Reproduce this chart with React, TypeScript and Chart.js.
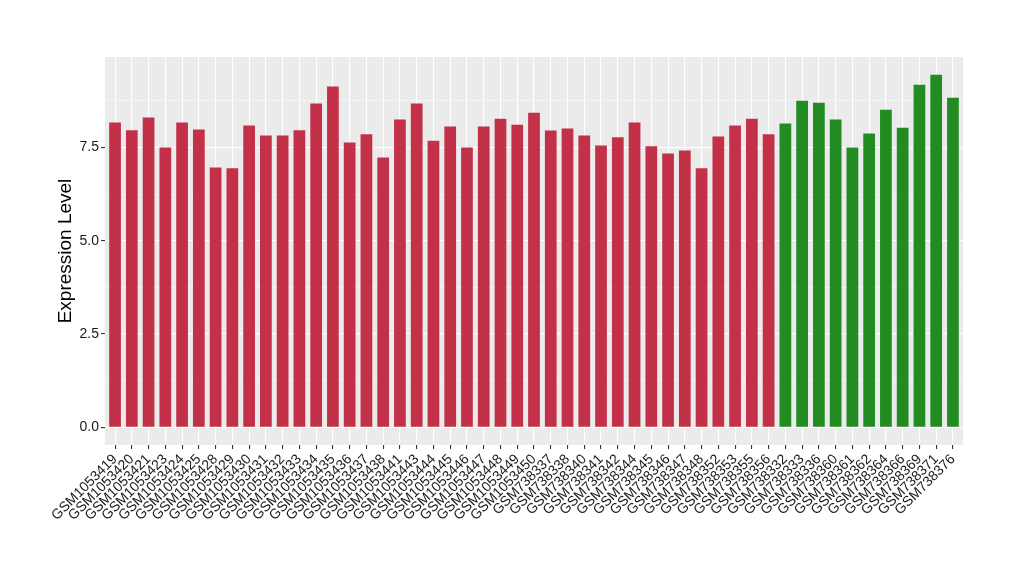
import React, { useEffect, useRef } from "react";
import { Chart, registerables } from "chart.js";

Chart.register(...registerables);

const sampleLabels: string[] = [
  "GSM1053419", "GSM1053420", "GSM1053421", "GSM1053423", "GSM1053424", "GSM1053425",
  "GSM1053428", "GSM1053429", "GSM1053430", "GSM1053431", "GSM1053432", "GSM1053433",
  "GSM1053434", "GSM1053435", "GSM1053436", "GSM1053437", "GSM1053438", "GSM1053441",
  "GSM1053443", "GSM1053444", "GSM1053445", "GSM1053446", "GSM1053447", "GSM1053448",
  "GSM1053449", "GSM1053450", "GSM738337", "GSM738338", "GSM738340", "GSM738341",
  "GSM738342", "GSM738344", "GSM738345", "GSM738346", "GSM738347", "GSM738348",
  "GSM738352", "GSM738353", "GSM738355", "GSM738356",
  "GSM738332", "GSM738333", "GSM738336", "GSM738360", "GSM738361", "GSM738362",
  "GSM738364", "GSM738366", "GSM738369", "GSM738371", "GSM738376",
];

const expressionValues: number[] = [
  8.17, 7.96, 8.30, 7.50, 8.17, 7.98, 6.96, 6.94, 8.09, 7.82, 7.82, 7.96,
  8.68, 9.13, 7.63, 7.85, 7.23, 8.25, 8.68, 7.68, 8.06, 7.50, 8.06, 8.27,
  8.11, 8.43, 7.95, 8.01, 7.82, 7.55, 7.77, 8.17, 7.53, 7.34, 7.42, 6.94,
  7.79, 8.09, 8.27, 7.85,
  8.14, 8.75, 8.70, 8.25, 7.50, 7.87, 8.51, 8.03, 9.18, 9.45, 8.83,
];

// 0 = first group (red), 1 = second group (green)
const sampleGroup: number[] = [
  0, 0, 0, 0, 0, 0, 0, 0, 0, 0, 0, 0, 0, 0, 0, 0, 0, 0, 0, 0,
  0, 0, 0, 0, 0, 0, 0, 0, 0, 0, 0, 0, 0, 0, 0, 0, 0, 0, 0, 0,
  1, 1, 1, 1, 1, 1, 1, 1, 1, 1, 1,
];

const groupColors: string[] = ["#C33149", "#228B22"];
const yTickStep = 1.25;

const FONT = "'Liberation Sans', Arial, Helvetica, sans-serif";

const panelBg = {
  id: "panelBg",
  beforeDraw(chart: any) {
    const { ctx, chartArea } = chart;
    ctx.save();
    ctx.fillStyle = "#EBEBEB";
    ctx.fillRect(chartArea.left, chartArea.top, chartArea.width, chartArea.height);
    ctx.restore();
  },
};

const isMajor = (v: number) => Math.abs(v / 2.5 - Math.round(v / 2.5)) < 1e-6;

export default function App() {
  const ref = useRef<HTMLCanvasElement>(null);

  useEffect(() => {
    if (!ref.current) return;
    const n = sampleLabels.length;
    const yMax = Math.max(...expressionValues);
    const pad = yMax * 0.05;
    const chart = new Chart(ref.current, {
      type: "bar",
      data: {
        datasets: [
          {
            data: expressionValues.map((v, i) => ({ x: i, y: v })),
            backgroundColor: sampleGroup.map((g) => groupColors[g]),
            barPercentage: 0.7,
            categoryPercentage: 1,
          },
        ],
      },
      options: {
        animation: false,
        responsive: false,
        layout: { padding: { top: 57, right: 57, left: 0, bottom: 0 } },
        plugins: { legend: { display: false }, tooltip: { enabled: false } },
        scales: {
          x: {
            type: "linear",
            offset: false,
            min: -0.6,
            max: n - 1 + 0.6,
            afterFit(scale: any) {
              scale.height = 135;
            },
            border: { display: false },
            grid: {
              offset: false,
              color: "#FFFFFF",
              lineWidth: 1.1,
              drawTicks: true,
              tickLength: 4,
              tickColor: "#333333",
            },
            ticks: {
              stepSize: 1,
              includeBounds: false,
              autoSkip: false,
              minRotation: 45,
              maxRotation: 45,
              padding: 2,
              color: "#1A1A1A",
              font: { family: FONT, size: 14 },
              callback: (v: any) => sampleLabels[Math.round(Number(v))] ?? "",
            },
          },
          y: {
            type: "linear",
            min: -pad,
            max: yMax + pad,
            afterFit(scale: any) {
              scale.width = 105;
            },
            border: { display: false },
            grid: {
              color: "#FFFFFF",
              lineWidth: (c: any) => (isMajor(c.tick.value) ? 1.1 : 0.5),
              tickLength: 4,
              tickColor: (c: any) => (isMajor(c.tick.value) ? "#333333" : "rgba(0,0,0,0)"),
            },
            ticks: {
              stepSize: yTickStep,
              includeBounds: false,
              padding: 2,
              color: "#1A1A1A",
              font: { family: FONT, size: 14 },
              callback: (v: any) => (isMajor(Number(v)) ? Number(v).toFixed(1) : ""),
            },
            title: {
              display: true,
              text: "Expression Level",
              color: "#000000",
              font: { family: FONT, size: 19 },
              padding: { top: 54, bottom: 0 },
            },
          },
        },
      },
      plugins: [panelBg],
    });
    return () => chart.destroy();
  }, []);

  return (
    <div style={{ position: "fixed", left: 0, top: 0, width: 1020, height: 580, background: "#FFFFFF" }}>
      <canvas ref={ref} width={1020} height={580} />
    </div>
  );
}
